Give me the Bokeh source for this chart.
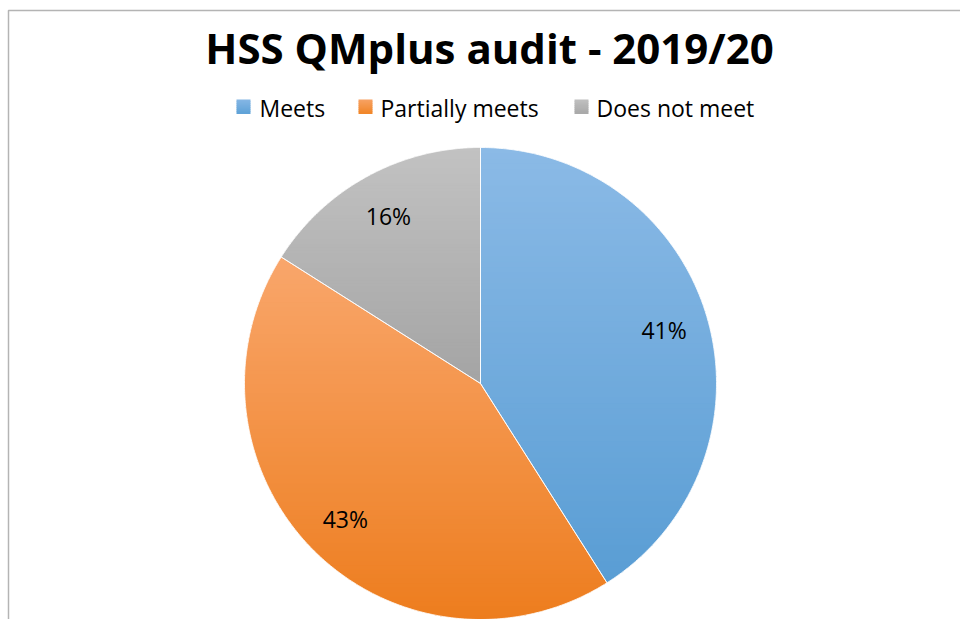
import numpy as np
from bokeh.plotting import figure
from bokeh.models import Range1d
from bokeh.core.properties import value
from bokeh.embed import file_html
from bokeh.resources import INLINE

# ---- data ----
categories = ["Meets", "Partially meets", "Does not meet"]
shares = [41, 43, 16]
labels = ["41%", "43%", "16%"]
top_colors = ["#8bbae6", "#f9a66b", "#c2c2c2"]
bottom_colors = ["#599dd4", "#ed7d1e", "#a4a4a4"]
legend_top = ["#86b7e5", "#f8a264", "#c0c0c0"]
legend_bottom = ["#5ea1d7", "#f08527", "#a8a8a8"]
title = "HSS QMplus audit - 2019/20"

# ---- layout ----
W, H = 960, 619
CX, CY, R = 480, 383, 236
FONT = "Open Sans"

p = figure(width=W, height=H, x_range=Range1d(0, W), y_range=Range1d(H, 0),
           output_backend="svg", toolbar_location=None, min_border=0,
           x_axis_location=None, y_axis_location=None)
p.grid.visible = False
p.outline_line_color = None
p.background_fill_color = "white"
p.border_fill_color = "white"

# chart area border (extends beyond the window on right / bottom)
p.quad(left=[8], right=[W + 10], top=[10], bottom=[H + 10],
       fill_color=None, line_color="#b4b4b4", line_width=1.5)


def hex2rgb(h):
    return np.array([int(h[i:i + 2], 16) for i in (1, 3, 5)], float)


def rgb2hex(c):
    c = np.clip(np.round(c), 0, 255).astype(int)
    return "#%02x%02x%02x" % tuple(c)


def clip_half(poly, y0, keep_greater):
    out = []
    n = len(poly)
    for i in range(n):
        a = poly[i]
        b = poly[(i + 1) % n]
        ina = a[1] >= y0 if keep_greater else a[1] <= y0
        inb = b[1] >= y0 if keep_greater else b[1] <= y0
        if ina:
            out.append(a)
        if ina != inb:
            t = (y0 - a[1]) / (b[1] - a[1])
            out.append((a[0] + t * (b[0] - a[0]), y0))
    return out


total = float(sum(shares))
fracs = np.array(shares) / total
starts = np.concatenate([[0], np.cumsum(fracs)[:-1]]) * 2 * np.pi
ends = np.cumsum(fracs) * 2 * np.pi

band_xs, band_ys, band_cols = [], [], []
out_xs, out_ys = [], []
NB = 80
for i in range(len(shares)):
    th = np.linspace(starts[i], ends[i], 240)
    px = list(CX + R * np.sin(th))
    py = list(CY - R * np.cos(th))
    poly = [(CX, CY)] + list(zip(px, py))
    out_xs.append([q[0] for q in poly])
    out_ys.append([q[1] for q in poly])
    ymin = min(q[1] for q in poly)
    ymax = max(q[1] for q in poly)
    c0 = hex2rgb(top_colors[i])
    c1 = hex2rgb(bottom_colors[i])
    edges = np.linspace(ymin, ymax, NB + 1)
    for k in range(NB):
        y0, y1 = edges[k], edges[k + 1]
        part = clip_half(poly, y0, True)
        if len(part) < 3:
            continue
        part = clip_half(part, y1 + 1.2, False)
        if len(part) < 3:
            continue
        t = (k + 0.5) / NB
        band_xs.append([q[0] for q in part])
        band_ys.append([q[1] for q in part])
        band_cols.append(rgb2hex(c0 + (c1 - c0) * t))

p.patches(band_xs, band_ys, fill_color=band_cols, line_color=None)
p.patches(out_xs, out_ys, fill_color=None, line_color="white", line_width=1, line_alpha=0.8)

# data labels
mids = (starts + ends) / 2
LR = 0.81 * R
lx = CX + LR * np.sin(mids)
ly = CY - LR * np.cos(mids)
p.text(x=lx, y=ly, text=labels, text_font=value(FONT), text_font_size="23px",
       text_color="black", text_align="center", text_baseline="middle")

# title
p.text(x=[489], y=[47], text=[title], text_font=value(FONT), text_font_size="42px",
       text_font_style="bold", text_color="black", text_align="center",
       text_baseline="middle")

# legend (manual, horizontal)
sq_left = [236, 358, 574]
tx_left = [259, 380, 596]
SQ = 14
LY = 106
for i in range(len(categories)):
    c0 = hex2rgb(legend_top[i])
    c1 = hex2rgb(legend_bottom[i])
    n = 7
    for k in range(n):
        t = (k + 0.5) / n
        p.quad(left=[sq_left[i]], right=[sq_left[i] + SQ],
               top=[LY - SQ / 2 + k * SQ / n], bottom=[LY - SQ / 2 + (k + 1) * SQ / n + 0.6],
               fill_color=rgb2hex(c0 + (c1 - c0) * t), line_color=None)
p.text(x=tx_left, y=[LY + 1] * 3, text=categories, text_font=value(FONT),
       text_font_size="23px", text_color="black", text_align="left",
       text_baseline="middle")

open("out.html", "w").write(file_html(p, INLINE))
